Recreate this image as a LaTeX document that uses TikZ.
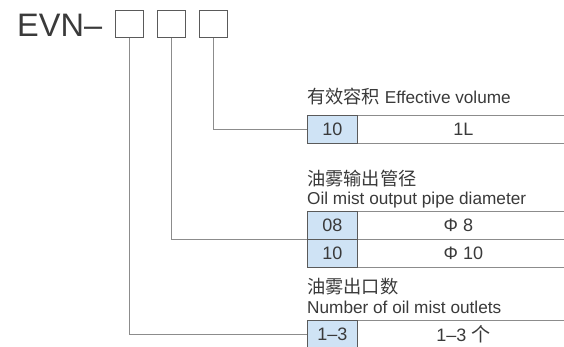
\documentclass[tikz,border=0pt]{standalone}
\usepackage{fontspec}
\setmainfont{Liberation Sans}
\newfontfamily\cjk[Scale=1.06]{Noto Sans CJK SC}
\definecolor{txt}{HTML}{3A3A3A}
\definecolor{cellblue}{HTML}{CFE3F5}
\definecolor{conn}{HTML}{8C8C8C}
\definecolor{bord}{HTML}{5A5A5A}
\tikzset{
  codebox/.style={draw=bord, line width=0.9pt, minimum width=28pt, minimum height=27pt, anchor=north west, inner sep=0pt},
  cellb/.style={draw=bord, line width=0.8pt, fill=cellblue, minimum width=50pt, minimum height=28pt, anchor=north west, inner sep=0pt, text=txt, font=\fontsize{18}{20}\selectfont},
  cellw/.style={draw=conn, line width=0.8pt, fill=white, minimum width=212pt, minimum height=28pt, anchor=north west, inner sep=0pt, text=txt, font=\fontsize{18}{20}\selectfont},
  lab/.style={anchor=base west, inner sep=0pt, text=txt, font=\fontsize{17.2}{19}\selectfont},
  conline/.style={draw=conn, line width=0.9pt}
}
\begin{document}
\begin{tikzpicture}[x=1pt,y=-1pt]
\useasboundingbox[fill=white] (0,0) rectangle (564,346);
% title
\node[anchor=base west, inner sep=0pt, text=txt, font=\fontsize{32.5}{34}\selectfont] (evn) at (17,36) {EVN–};
\node[codebox] (b1) at (115,10) {};
\node[codebox] (b2) at (157,10) {};
\node[codebox] (b3) at (199,10) {};
% section 1
\node[lab] (l1) at (307,103) {{\cjk 有效容积} Effective volume};
\node[cellw] (r1b) at (357,115) {1L};
\node[cellb] (r1a) at (307,115) {10};
% section 2
\node[lab] (l2a) at (307,185) {\cjk 油雾输出管径};
\node[lab] (l2b) at (307,204) {Oil mist output pipe diameter};
\node[cellw] (r2b) at (357,211) {Φ 8\phantom{0}};
\node[cellw] (r3b) at (357,239) {Φ 10};
\node[cellb] (r2a) at (307,211) {08};
\node[cellb] (r3a) at (307,239) {10};
\coordinate (j2) at (r3a.north west);
% section 3
\node[lab] (l3a) at (307,293) {\cjk 油雾出口数};
\node[lab] (l3b) at (307,313) {Number of oil mist outlets};
\node[cellw] (r4b) at (357,320) {1–3 {\cjk 个}};
\node[cellb] (r4a) at (307,320) {1–3};
% connectors
\draw[conline] (b3.south) |- (r1a.west);
\draw[conline] (b2.south) |- (j2);
\draw[conline] (b1.south) |- (r4a.west);
\end{tikzpicture}
\end{document}
